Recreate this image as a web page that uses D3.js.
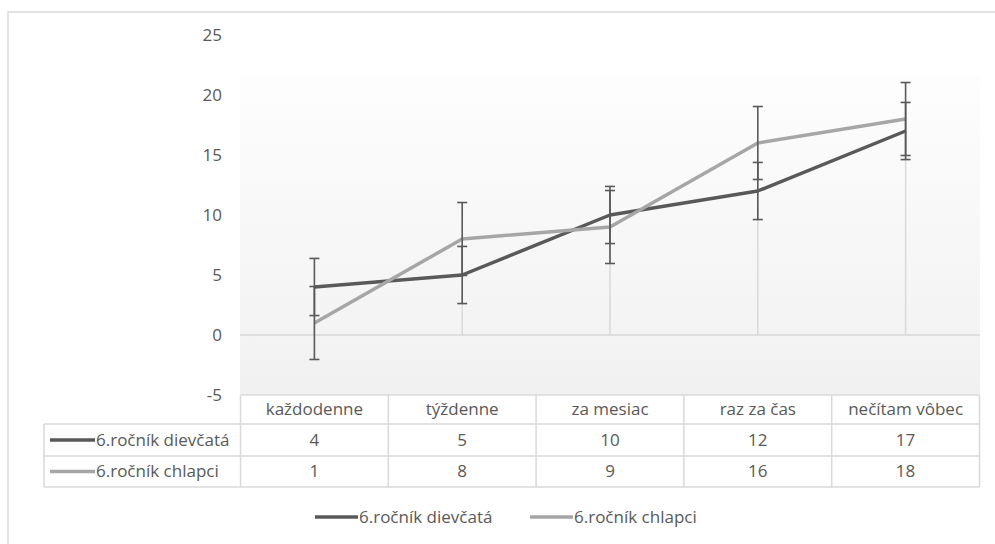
<!DOCTYPE html>
<html>
<head>
<meta charset="utf-8">
<script src="https://cdn.jsdelivr.net/npm/d3@7"></script>
<style>
  body { margin: 0; background: #fff; }
  svg { display: block; font-family: "Open Sans", sans-serif; }
</style>
</head>
<body>
<svg id="lienzo" width="995" height="544"></svg>
<script>
// data
const kategorie = ['každodenne', 'týždenne', 'za mesiac', 'raz za čas', 'nečítam vôbec'];
const dievcata = [4, 5, 10, 12, 17];
const chlapci = [1, 8, 9, 16, 18];
const nazvySerii = ['6.ročník dievčatá', '6.ročník chlapci'];
const chyby = [2.38, 3.04]; // standard error per series
const yTicks = [-5, 0, 5, 10, 15, 20, 25];

const farby = ['#595959', '#a6a6a6'];
const textColor = '#595959';
const gridColor = '#d9d9d9';
const fontSize = '17px';

const svg = d3.select('#lienzo');

// chart border (right/bottom edges fall outside the picture)
svg.append('rect')
    .attr('x', 8).attr('y', 12)
    .attr('width', 1000).attr('height', 560)
    .attr('fill', '#fff')
    .attr('stroke', gridColor)
    .attr('stroke-width', 1.5);

const x = d3.scaleBand().domain(kategorie).range([240.5, 979.5]);
const y = d3.scaleLinear().domain([-5, 25]).range([395, 35]);

// plot area gradient
const defs = svg.append('defs');
const grad = defs.append('linearGradient')
    .attr('id', 'plotGrad')
    .attr('x1', 0).attr('y1', 0).attr('x2', 0).attr('y2', 1);
grad.append('stop').attr('offset', '0%').attr('stop-color', '#fdfdfd');
grad.append('stop').attr('offset', '100%').attr('stop-color', '#f1f1f1');

svg.append('rect')
    .attr('x', 240).attr('y', 77)
    .attr('width', 740).attr('height', 395 - 77)
    .attr('fill', 'url(#plotGrad)');

// y axis labels
svg.append('g').selectAll('text')
    .data(yTicks)
    .enter()
    .append('text')
    .attr('x', 222)
    .attr('y', d => y(d))
    .attr('dy', '0.35em')
    .attr('text-anchor', 'end')
    .attr('font-size', fontSize)
    .attr('fill', textColor)
    .text(d => d);

// zero line
svg.append('line')
    .attr('x1', 240).attr('x2', 980)
    .attr('y1', y(0)).attr('y2', y(0))
    .attr('stroke', gridColor)
    .attr('stroke-width', 1.5);

// drop lines
const cx = d => x(d) + x.bandwidth() / 2;
svg.append('g').selectAll('line')
    .data(kategorie)
    .enter()
    .append('line')
    .attr('x1', d => cx(d)).attr('x2', d => cx(d))
    .attr('y1', (d, i) => y(Math.max(dievcata[i], chlapci[i])))
    .attr('y2', y(0))
    .attr('stroke', gridColor)
    .attr('stroke-width', 1.5);

// lines
const serie = [dievcata, chlapci];
const line = d3.line()
    .x((d, i) => cx(kategorie[i]))
    .y(d => y(d));

serie.forEach((s, k) => {
    svg.append('path')
        .datum(s)
        .attr('d', line)
        .attr('fill', 'none')
        .attr('stroke', farby[k])
        .attr('stroke-width', 3.5)
        .attr('stroke-linejoin', 'round');
});

// error bars
serie.forEach((s, k) => {
    const g = svg.append('g')
        .attr('stroke', '#595959')
        .attr('stroke-width', 1.6);
    s.forEach((v, i) => {
        const xc = cx(kategorie[i]);
        const top = y(v + chyby[k]);
        const bot = y(v - chyby[k]);
        g.append('line').attr('x1', xc).attr('x2', xc).attr('y1', top).attr('y2', bot);
        g.append('line').attr('x1', xc - 5).attr('x2', xc + 5).attr('y1', top).attr('y2', top);
        g.append('line').attr('x1', xc - 5).attr('x2', xc + 5).attr('y1', bot).attr('y2', bot);
    });
});

// data table
const tabLeft = 44;
const colEdges = kategorie.map(d => x(d)).concat([x.range()[1]]);
const rowTop = [395, 424, 456, 487];

const tab = svg.append('g')
    .attr('stroke', gridColor)
    .attr('stroke-width', 1.5)
    .attr('fill', 'none');
tab.append('line').attr('x1', x.range()[0]).attr('x2', x.range()[1]).attr('y1', rowTop[0]).attr('y2', rowTop[0]);
rowTop.slice(1).forEach(ry => {
    tab.append('line').attr('x1', tabLeft).attr('x2', x.range()[1]).attr('y1', ry).attr('y2', ry);
});
colEdges.forEach(ex => {
    tab.append('line').attr('x1', ex).attr('x2', ex).attr('y1', rowTop[0]).attr('y2', rowTop[3]);
});
tab.append('line').attr('x1', tabLeft).attr('x2', tabLeft).attr('y1', rowTop[1]).attr('y2', rowTop[3]);

// header
svg.append('g').selectAll('text')
    .data(kategorie)
    .enter()
    .append('text')
    .attr('x', d => cx(d))
    .attr('y', (rowTop[0] + rowTop[1]) / 2)
    .attr('dy', '0.35em')
    .attr('text-anchor', 'middle')
    .attr('font-size', fontSize)
    .attr('fill', textColor)
    .text(d => d);

// rows
serie.forEach((s, k) => {
    const ym = (rowTop[k + 1] + rowTop[k + 2]) / 2;
    svg.append('line')
        .attr('x1', 50).attr('x2', 95)
        .attr('y1', ym).attr('y2', ym)
        .attr('stroke', farby[k])
        .attr('stroke-width', 3.5);
    svg.append('text')
        .attr('x', 96).attr('y', ym)
        .attr('dy', '0.35em')
        .attr('font-size', fontSize)
        .attr('fill', textColor)
        .text(nazvySerii[k]);
    svg.append('g').selectAll('text')
        .data(s)
        .enter()
        .append('text')
        .attr('x', (d, i) => cx(kategorie[i]))
        .attr('y', ym)
        .attr('dy', '0.35em')
        .attr('text-anchor', 'middle')
        .attr('font-size', fontSize)
        .attr('fill', textColor)
        .text(d => d);
});

// legend
const legendX = [315, 530];
nazvySerii.forEach((n, k) => {
    svg.append('line')
        .attr('x1', legendX[k]).attr('x2', legendX[k] + 43)
        .attr('y1', 517).attr('y2', 517)
        .attr('stroke', farby[k])
        .attr('stroke-width', 3.5);
    svg.append('text')
        .attr('x', legendX[k] + 44).attr('y', 517)
        .attr('dy', '0.35em')
        .attr('font-size', fontSize)
        .attr('fill', textColor)
        .text(n);
});
</script>
</body>
</html>
